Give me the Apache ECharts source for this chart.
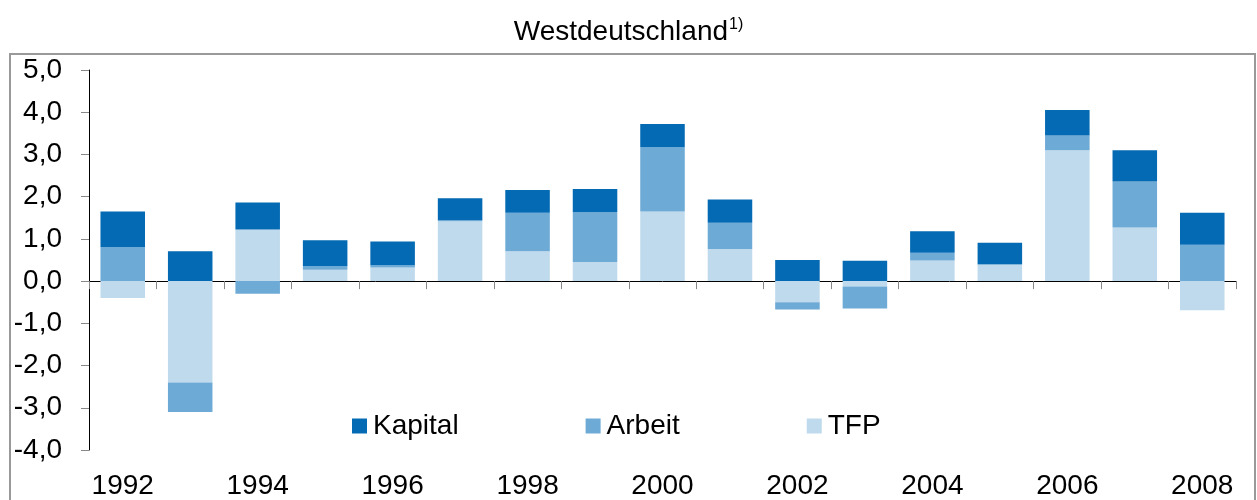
<!DOCTYPE html>
<html>
<head>
<meta charset="utf-8">
<script src="https://cdn.jsdelivr.net/npm/echarts@6/dist/echarts.min.js"></script>
<style>
  html, body { margin: 0; padding: 0; background: #fff; }
  #chart { width: 1257px; height: 500px; }
</style>
</head>
<body>
<div id="chart"></div>
<script>
const years = ['1992', '1993', '1994', '1995', '1996', '1997', '1998', '1999', '2000',
  '2001', '2002', '2003', '2004', '2005', '2006', '2007', '2008'];
const tfp = [-0.40, -2.40, 1.22, 0.27, 0.32, 1.42, 0.71, 0.45, 1.65,
  0.76, -0.50, -0.13, 0.49, 0.39, 3.10, 1.27, -0.69];
const arbeit = [0.81, -0.70, -0.30, 0.09, 0.06, 0.02, 0.91, 1.18, 1.52,
  0.62, -0.17, -0.52, 0.18, 0.01, 0.35, 1.09, 0.86];
const kapital = [0.84, 0.71, 0.64, 0.61, 0.56, 0.52, 0.54, 0.55, 0.55,
  0.55, 0.50, 0.48, 0.51, 0.51, 0.60, 0.74, 0.76];

const chart = echarts.init(document.getElementById('chart'));
const font = 'Liberation Sans, Arial, sans-serif';

const makeBar = (name, data, color) => ({
  name: name,
  type: 'bar',
  stack: 'total',
  data: data,
  barCategoryGap: '34%',
  itemStyle: { color: color },
  emphasis: { disabled: true }
});

const option = {
  animation: false,
  textStyle: { fontFamily: font },
  title: {
    text: '{a|Westdeutschland}{s|1)}',
    left: 'center',
    top: 12,
    textStyle: {
      fontWeight: 'normal',
      rich: {
        a: { fontSize: 28, color: '#000', fontFamily: font, fontWeight: 'normal' },
        s: { fontSize: 16, color: '#000', fontFamily: font, fontWeight: 'normal', padding: [0, 0, 14, 1] }
      }
    }
  },
  graphic: [{
    type: 'rect',
    shape: { x: 10, y: 54, width: 1245, height: 460 },
    style: { fill: 'none', stroke: '#999', lineWidth: 2 },
    silent: true
  }],
  legend: {
    data: ['Kapital', 'Arbeit', 'TFP'],
    left: 347,
    top: 407,
    itemWidth: 15,
    itemHeight: 15,
    itemGap: 127,
    icon: 'rect',
    textStyle: { fontSize: 28, color: '#000', fontFamily: font, padding: [0, 0, 0, 1] }
  },
  grid: { left: 89, right: 21, top: 70, bottom: 48 },
  xAxis: [{
    type: 'category',
    data: years,
    axisLine: { onZero: true, lineStyle: { color: '#000', width: 1 } },
    axisTick: { show: true, inside: false, length: 8, lineStyle: { color: '#888' } },
    axisLabel: { show: false }
  }, {
    type: 'category',
    data: years,
    position: 'bottom',
    axisLine: { show: false, onZero: false },
    axisTick: { show: false },
    axisLabel: { interval: 1, fontSize: 28, color: '#000', margin: 22, fontFamily: font }
  }],
  yAxis: {
    type: 'value',
    min: -4,
    max: 5,
    interval: 1,
    splitLine: { show: false },
    axisLine: { show: true, lineStyle: { color: '#000', width: 1 } },
    axisTick: { show: true, length: 8, lineStyle: { color: '#888' } },
    axisLabel: {
      fontSize: 28,
      color: '#000',
      margin: 27,
      fontFamily: font,
      formatter: v => v.toFixed(1).replace('.', ',')
    }
  },
  series: [
    makeBar('TFP', tfp, '#bfdaec'),
    makeBar('Arbeit', arbeit, '#6daad6'),
    makeBar('Kapital', kapital, '#036ab3')
  ]
};

chart.setOption(option);
</script>
</body>
</html>
